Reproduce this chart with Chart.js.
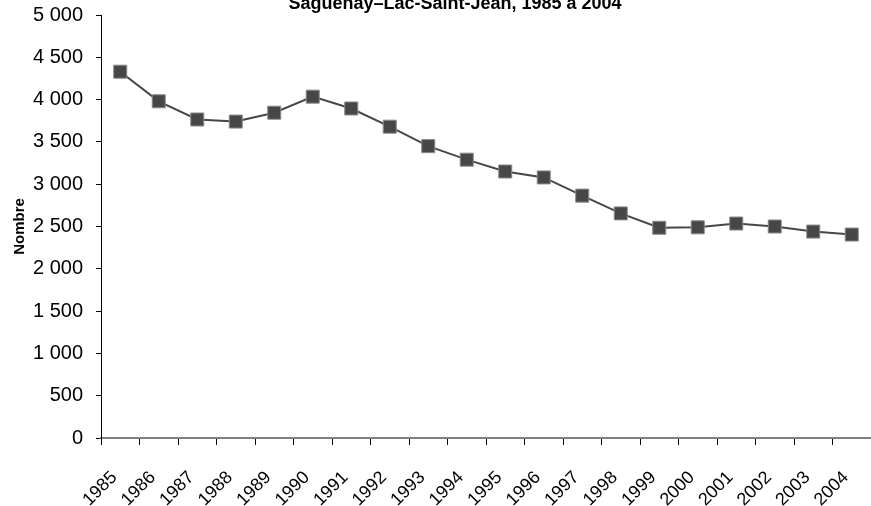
<!DOCTYPE html>
<html>
<head>
<meta charset="utf-8">
<script src="https://cdn.jsdelivr.net/npm/chart.js@4/dist/chart.umd.min.js"></script>
<style>
    html, body { margin: 0; padding: 0; background: #fff; }
    #wrap { width: 871px; height: 506px; }
</style>
</head>
<body>
<div id="wrap"><canvas id="lineChart" width="871" height="506"></canvas></div>
<script>
const years = ['1985', '1986', '1987', '1988', '1989', '1990', '1991', '1992', '1993', '1994',
               '1995', '1996', '1997', '1998', '1999', '2000', '2001', '2002', '2003', '2004'];
const counts = [4330, 3980, 3765, 3740, 3845, 4035, 3895, 3680, 3450, 3290,
                3150, 3080, 2865, 2655, 2485, 2490, 2535, 2500, 2440, 2405];
const chartTitle = 'Saguenay–Lac-Saint-Jean, 1985 à 2004';
const yTitle = 'Nombre';

// title sits partly above the canvas in the original, so draw it by hand
const topTitle = {
    id: 'topTitle',
    afterDraw(chart) {
        const ctx = chart.ctx;
        ctx.save();
        ctx.font = 'bold 18px "Liberation Sans", Arial, sans-serif';
        ctx.fillStyle = '#000';
        ctx.textAlign = 'center';
        ctx.textBaseline = 'alphabetic';
        ctx.fillText(chartTitle, 455, 9);
        ctx.restore();
    }
};

function frNumber(v) {
    return String(v).replace(/\B(?=(\d{3})+(?!\d))/g, ' ');
}

const ctx = document.getElementById('lineChart');
new Chart(ctx, {
    type: 'line',
    data: {
        labels: years,
        datasets: [{
            data: counts,
            borderColor: '#474747',
            borderWidth: 2,
            backgroundColor: '#474747',
            pointStyle: 'rect',
            pointRadius: 9.2,
            pointBackgroundColor: '#474747',
            pointBorderColor: '#8a8a8a',
            pointBorderWidth: 1,
            tension: 0
        }]
    },
    options: {
        responsive: false,
        animation: false,
        layout: {
            autoPadding: false,
            padding: { top: 15, left: 0, right: 0, bottom: 0 }
        },
        plugins: {
            legend: { display: false },
            title: { display: false },
            tooltip: { enabled: false }
        },
        scales: {
            x: {
                offset: true,
                afterFit(scale) {
                    scale.height = 68;
                    scale.paddingLeft = 0;
                    scale.paddingRight = 0;
                },
                grid: {
                    offset: true,
                    drawOnChartArea: false,
                    drawTicks: true,
                    tickLength: 7,
                    color: '#000'
                },
                border: { color: '#808080', width: 2 },
                ticks: {
                    color: '#000',
                    maxRotation: 45,
                    minRotation: 45,
                    padding: 22,
                    labelOffset: -6,
                    autoSkip: false,
                    font: { family: '"Liberation Sans", Arial, sans-serif', size: 18 }
                }
            },
            y: {
                min: 0,
                max: 5000,
                afterFit(scale) {
                    scale.width = 101;
                    scale.paddingTop = 0;
                    scale.paddingBottom = 0;
                },
                grid: {
                    drawOnChartArea: false,
                    drawTicks: true,
                    tickLength: 5,
                    color: '#000'
                },
                border: { color: '#000', width: 1 },
                ticks: {
                    stepSize: 500,
                    color: '#000',
                    padding: 13,
                    font: { family: '"Liberation Sans", Arial, sans-serif', size: 20 },
                    callback: function(value) {
                        return frNumber(value);
                    }
                },
                title: {
                    display: true,
                    text: yTitle,
                    color: '#000',
                    padding: { top: 11, bottom: 0 },
                    font: { family: '"Liberation Sans", Arial, sans-serif', size: 15, weight: 'bold' }
                }
            }
        }
    },
    plugins: [topTitle]
});
</script>
</body>
</html>
